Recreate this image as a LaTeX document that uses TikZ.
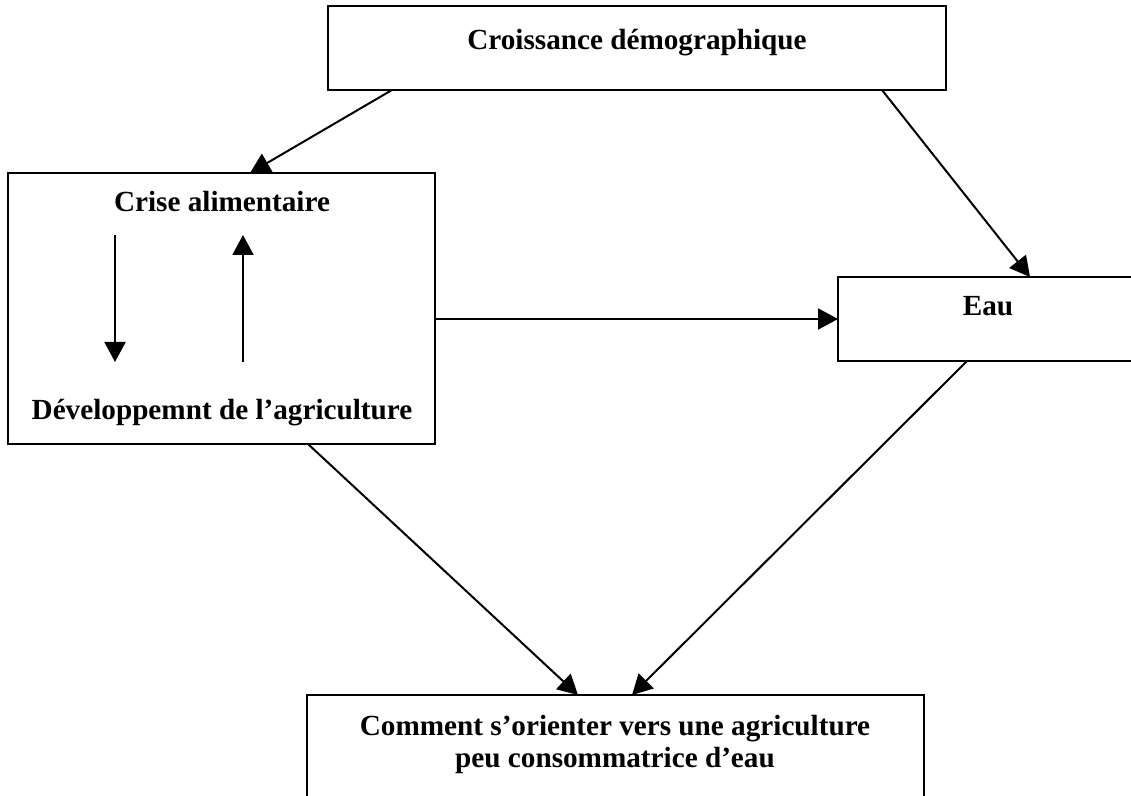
\documentclass[tikz,border=0pt]{standalone}
\usepackage{fontspec}
\setmainfont{Liberation Serif}
\usetikzlibrary{arrows.meta}
\begin{document}
\begin{tikzpicture}[x=0.5pt,y=-0.5pt,
  box/.style={draw,line width=1pt,inner sep=0pt,rectangle},
  lbl/.style={font=\bfseries\fontsize{14.6}{20}\selectfont,inner sep=0pt,anchor=base},
  arr/.style={line width=1pt,-{Triangle[length=10pt,width=10.5pt]}}]
\useasboundingbox (0,0) rectangle (1131,796);
\fill[white] (0,0) rectangle (1131,796);
\begin{scope}
\clip (0,0) rectangle (1131,796);
\node[box,minimum width=309pt,minimum height=42pt] (top) at (637,48) {};
\node[box,minimum width=213.5pt,minimum height=135.5pt] (left) at (221.5,308.5) {};
\node[box,minimum width=151pt,minimum height=42pt] (eau) at (989,319) {};
\node[box,minimum width=308.5pt,minimum height=67.5pt] (bot) at (615.5,762.5) {};
\end{scope}
\node[lbl] (t1) at (637,50) {Croissance démographique};
\node[lbl] (t2) at (222,212) {Crise alimentaire};
\node[lbl] (t3) at (222,420) {Développemnt de l’agriculture};
\node[lbl] (t4) at (988,316) {Eau};
\node[lbl] (t5) at (615,735) {Comment s’orienter vers une agriculture};
\node[lbl] (t6) at (615,768) {peu consommatrice d’eau};
% connector end points
\coordinate (a1s) at (392,90);
\coordinate (a1e) at (250,173);
\coordinate (a2s) at (882,90);
\coordinate (a2e) at (1030,277);
\coordinate (a3e) at (838,319);
\coordinate (a4s) at (967,361);
\coordinate (a4e) at (632,695);
\coordinate (a5s) at (308,444);
\coordinate (a5e) at (578,695);
\coordinate (d1s) at (115,235);
\coordinate (d1e) at (115,362);
\coordinate (u1s) at (243,362);
\coordinate (u1e) at (243,235);
\draw[arr] (a1s) -- (a1e);
\draw[arr] (a2s) -- (a2e);
\draw[arr] (left.east |- a3e) -- (a3e);
\draw[arr] (a4s) -- (a4e);
\draw[arr] (a5s) -- (a5e);
\draw[arr] (d1s) -- (d1e);
\draw[arr] (u1s) -- (u1e);
\end{tikzpicture}
\end{document}
